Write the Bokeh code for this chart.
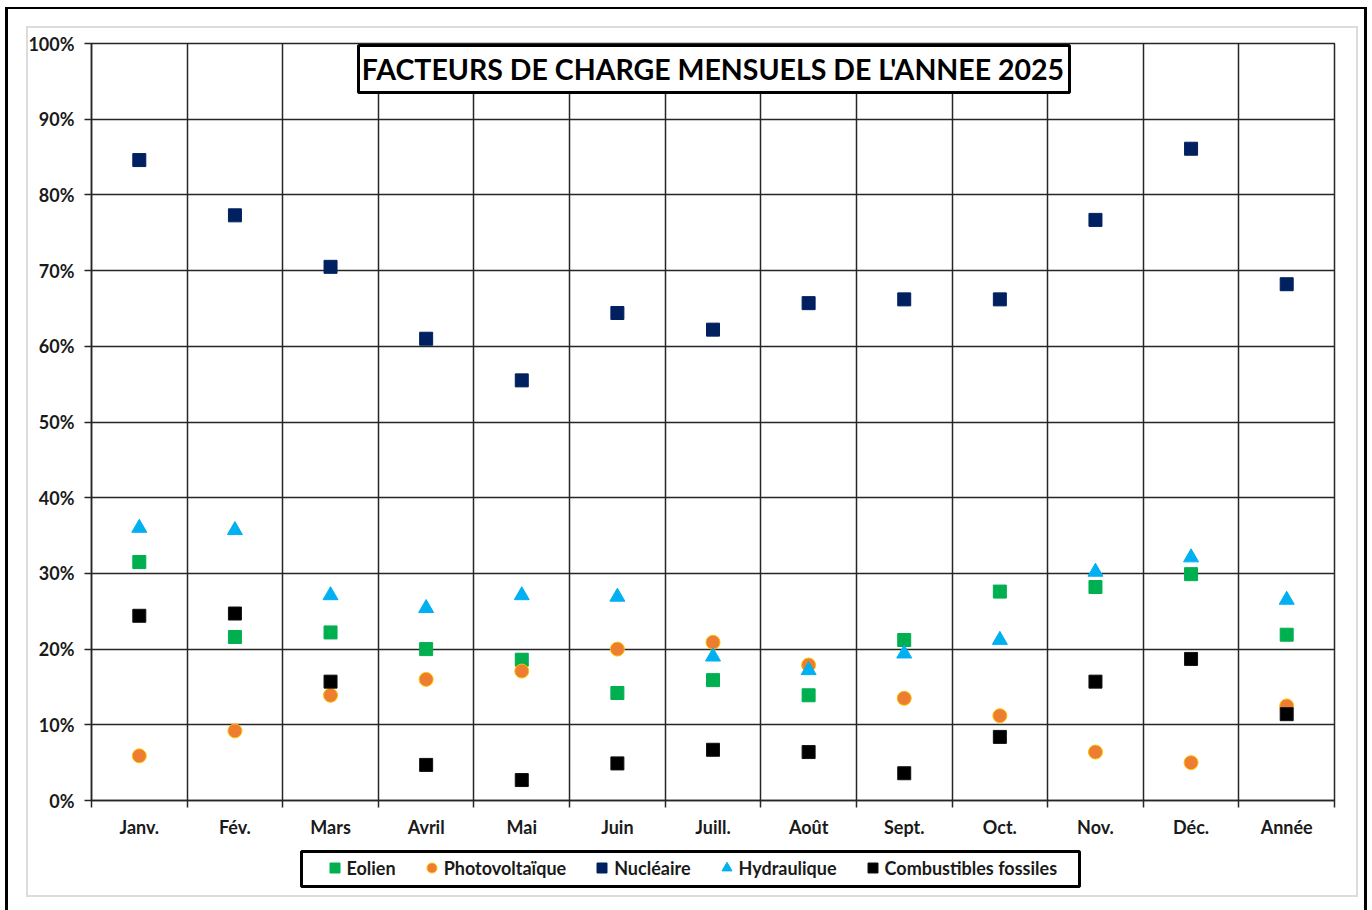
import numpy as np
from bokeh.plotting import figure
from bokeh.layouts import column
from bokeh.models import (Range1d, FixedTicker, PrintfTickFormatter, Legend, LegendItem,
                          BoxAnnotation, Label)
from bokeh.embed import file_html
from bokeh.resources import INLINE

# ---------------- data ----------------
months = ["Janv.", "Fév.", "Mars", "Avril", "Mai", "Juin", "Juill.", "Août",
          "Sept.", "Oct.", "Nov.", "Déc.", "Année"]
eolien = [31.5, 21.6, 22.2, 20.0, 18.6, 14.2, 15.9, 13.9, 21.2, 27.6, 28.2, 29.9, 21.9]
photovoltaique = [5.9, 9.2, 13.9, 16.0, 17.1, 20.0, 20.9, 17.9, 13.5, 11.2, 6.4, 5.0, 12.5]
nucleaire = [84.6, 77.3, 70.5, 61.0, 55.5, 64.4, 62.2, 65.7, 66.2, 66.2, 76.7, 86.1, 68.2]
hydraulique = [36.0, 35.7, 27.1, 25.4, 27.1, 26.9, 19.0, 17.2, 19.4, 21.2, 30.2, 32.1, 26.5]
fossiles = [24.4, 24.7, 15.7, 4.7, 2.7, 4.9, 6.7, 6.4, 3.6, 8.4, 15.7, 18.7, 11.4]
y_ticks = [0, 10, 20, 30, 40, 50, 60, 70, 80, 90, 100]
series_names = ["Eolien", "Photovoltaïque", "Nucléaire", "Hydraulique", "Combustibles fossiles"]
title_text = "FACTEURS DE CHARGE MENSUELS DE L'ANNEE 2025"

FONT = "Lato"
TXT = "#1a1a1a"
GRID = "#262626"

# marker styles per series (same order as series_names)
styles = [
    dict(marker="square", size=13, fill_color="#00B050", line_color="#00B050"),
    dict(marker="circle", size=14, fill_color="#ED7D31", line_color="#FFC000", line_width=1),
    dict(marker="square", size=13, fill_color="#002060", line_color="#002060"),
    dict(marker="triangle", size=15, fill_color="#00B0F0", line_color="#00B0F0"),
    dict(marker="square", size=13, fill_color="#000000", line_color="#111111"),
]
series_values = [eolien, photovoltaique, nucleaire, hydraulique, fossiles]

n = len(months)
xs = np.arange(n) + 0.5

# ---------------- main chart ----------------
p = figure(width=1372, height=849,
           x_range=Range1d(0, n), y_range=Range1d(0, 100),
           output_backend="svg", toolbar_location=None,
           min_border_left=91, min_border_right=38,
           min_border_top=43, min_border_bottom=49)
p.background_fill_color = "white"
p.border_fill_color = None
p.outline_line_color = GRID
p.outline_line_width = 1.5

# grid
p.xgrid.ticker = FixedTicker(ticks=list(range(n + 1)))
p.xgrid.grid_line_color = GRID
p.xgrid.grid_line_width = 1.5
p.ygrid.grid_line_color = GRID
p.ygrid.grid_line_width = 1.5

# x axis
p.xaxis.ticker = FixedTicker(ticks=list(xs), minor_ticks=list(range(n + 1)))
p.xaxis.major_label_overrides = {float(x): m for x, m in zip(xs, months)}
p.xaxis.major_tick_out = 0
p.xaxis.major_tick_in = 0
p.xaxis.minor_tick_out = 7
p.xaxis.minor_tick_in = 0
p.xaxis.minor_tick_line_color = GRID
p.xaxis.minor_tick_line_width = 1.5
p.xaxis.axis_line_color = GRID
p.xaxis.axis_line_width = 1.5
p.xaxis.major_label_standoff = 8
p.xaxis.major_label_text_font = FONT
p.xaxis.major_label_text_font_style = "bold"
p.xaxis.major_label_text_font_size = "18px"
p.xaxis.major_label_text_color = TXT

# y axis
p.yaxis.ticker = FixedTicker(ticks=y_ticks)
p.yaxis.formatter = PrintfTickFormatter(format="%d%%")
p.yaxis.major_tick_out = 7
p.yaxis.major_tick_in = 0
p.yaxis.minor_tick_line_color = None
p.yaxis.major_tick_line_color = GRID
p.yaxis.major_tick_line_width = 1.5
p.yaxis.axis_line_color = GRID
p.yaxis.axis_line_width = 1.5
p.yaxis.major_label_standoff = 10
p.yaxis.major_label_text_font = FONT
p.yaxis.major_label_text_font_style = "bold"
p.yaxis.major_label_text_font_size = "18px"
p.yaxis.major_label_text_color = TXT

# series
for vals, st in zip(series_values, styles):
    p.scatter(xs, vals, **st)

# title box
p.add_layout(BoxAnnotation(left=358, right=1069, top=45, bottom=92,
                           left_units="canvas", right_units="canvas",
                           top_units="canvas", bottom_units="canvas",
                           fill_color="white", fill_alpha=1.0,
                           line_color="black", line_alpha=1.0, line_width=3))
p.add_layout(Label(x=n / 2, y=96.63, text=title_text,
                   text_align="center", text_baseline="middle",
                   text_font=FONT, text_font_style="bold",
                   text_font_size="28.5px", text_color="#000000"))

# ---------------- legend box (separate strip below the chart) ----------------
# its left/right borders are aligned by the column to the chart's (91 / 38 px)
lf = figure(width=907, height=39, x_range=Range1d(-2, -1), y_range=Range1d(0, 100),
            output_backend="svg", toolbar_location=None,
            x_axis_type=None, y_axis_type=None, min_border=2,
            min_border_left=91, min_border_right=38)
lf.border_fill_color = None
lf.background_fill_color = "white"
lf.outline_line_color = "black"
lf.outline_line_width = 3
lf.outline_line_alpha = 1.0
lf.grid.visible = False
lf.margin = (0, 0, 22, 210)

# legend proxies: same series, outside the strip's (empty) x range
leg_renderers = [lf.scatter(xs, vals, **st) for vals, st in zip(series_values, styles)]
items = [LegendItem(label=nm, renderers=[r]) for nm, r in zip(series_names, leg_renderers)]
legend = Legend(items=items, orientation="horizontal", location=(20.5, 6),
                glyph_width=25, glyph_height=25, label_standoff=0,
                spacing=23, padding=0, margin=0,
                border_line_color=None, background_fill_alpha=0,
                label_text_font=FONT, label_text_font_style="bold",
                label_text_font_size="18px", label_text_color=TXT)
lf.add_layout(legend)

# ---------------- page frame ----------------
frame_css = ", ".join([
    "linear-gradient(#000,#000) 5px 7px / 3px 903px no-repeat",
    "linear-gradient(#000,#000) 5px 7px / 1362px 2px no-repeat",
    "linear-gradient(#000,#000) 1364px 7px / 3px 903px no-repeat",
    "linear-gradient(#dcdcdc,#dcdcdc) 26px 26px / 2px 871px no-repeat",
    "linear-gradient(#dcdcdc,#dcdcdc) 26px 26px / 1332px 2px no-repeat",
    "linear-gradient(#dcdcdc,#dcdcdc) 1356px 26px / 2px 871px no-repeat",
    "linear-gradient(#dcdcdc,#dcdcdc) 26px 895px / 1332px 2px no-repeat",
])
page = column(p, lf, spacing=0)
page.styles = {"background": frame_css}

open("out.html", "w").write(file_html(page, INLINE))
